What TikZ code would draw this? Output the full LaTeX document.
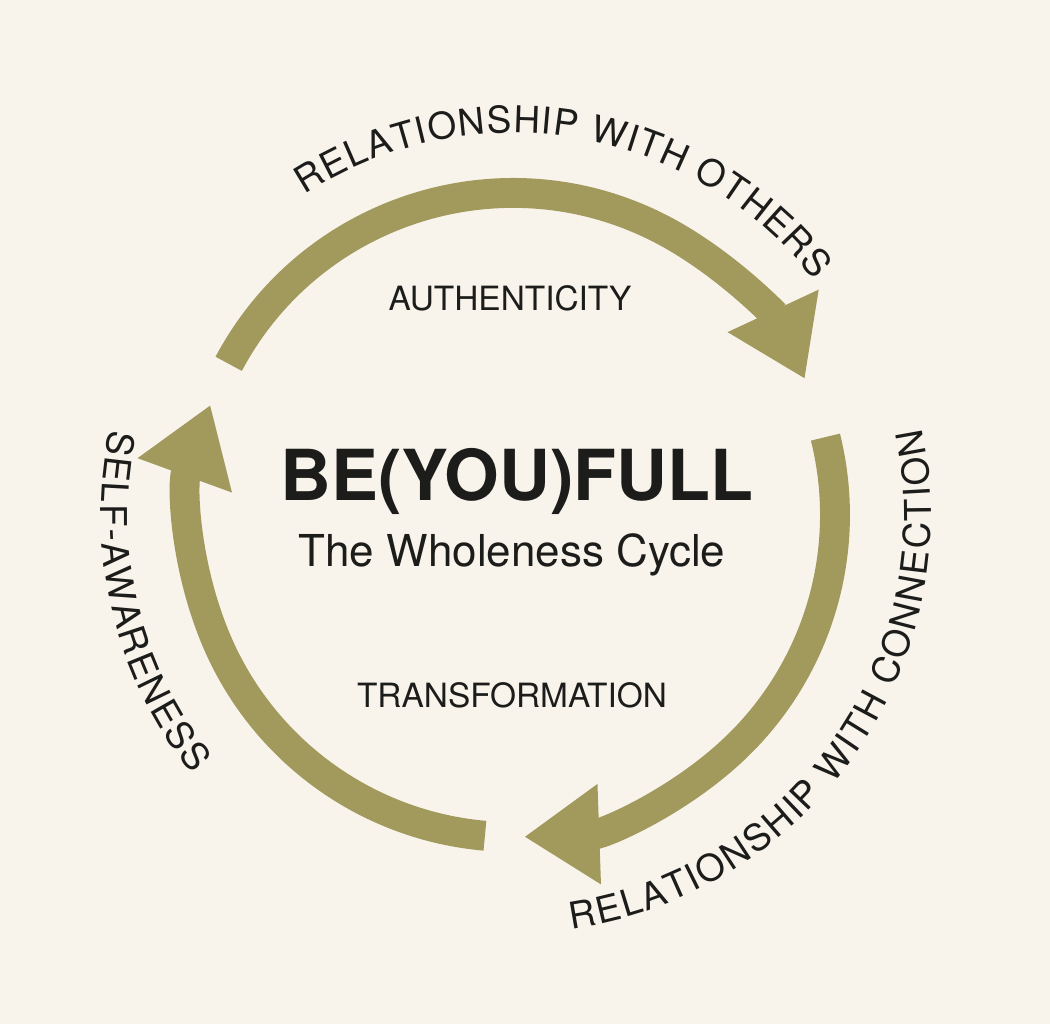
\documentclass[tikz,border=0pt]{standalone}
\usepackage{fontspec}
\setmainfont{TeX Gyre Heros}
\usetikzlibrary{arrows.meta,decorations.text}
\definecolor{olive}{HTML}{A29A5D}
\definecolor{paper}{HTML}{F8F4EC}
\definecolor{ink}{HTML}{1C1C1A}
\newcommand{\outerfont}{\fontsize{10.5}{13}\selectfont}
\newcommand{\innerfont}{\fontsize{9.5}{11}\selectfont}
\tikzset{
  cyclearrow/.style={draw=olive, line width=8.5pt, -{Triangle[width=9.5mm,length=7.5mm]}},
  ringtext/.style={decorate, decoration={text along path, text align={fit to path}, text color=ink}}
}
\begin{document}
\begin{tikzpicture}[x=0.01cm,y=0.01cm]
\fill[paper] (0,0) rectangle (1050,1024);
\useasboundingbox (0,0) rectangle (1050,1024);
\coordinate (center) at (513,509);

% the three arcs of the cycle
\draw[cyclearrow] (center) ++(152:322) arc (152:25:322);
\draw[cyclearrow] (center) ++(14:322) arc (14:-88:322);
\draw[cyclearrow] (center) ++(-95:322) arc (-95:-200:322);

% words round the ring
\path[ringtext, decoration={text={|\outerfont|RELATIONSHIP WITH OTHERS}}]
  (center) ++(123:382) arc (123:38:382);
\path[ringtext, decoration={text={|\outerfont|RELATIONSHIP WITH CONNECTION}}]
  (center) ++(-82:418) arc (-82:12:418);
\path[ringtext, decoration={text={|\outerfont|SELF-AWARENESS}}]
  (center) ++(168:412) arc (168:219:412);

% inside the ring
\node[text=ink, font=\innerfont] (authenticity) at (510,726) {AUTHENTICITY};
\node[text=ink, font=\innerfont] (transformation) at (512,329) {TRANSFORMATION};
\node[text=ink, font=\fontsize{20}{24}\selectfont\bfseries] (title) at (517,543) {BE(YOU)FULL};
\node[text=ink, font=\fontsize{12.5}{15}\selectfont] (subtitle) at (512,469) {The Wholeness Cycle};
\end{tikzpicture}
\end{document}
